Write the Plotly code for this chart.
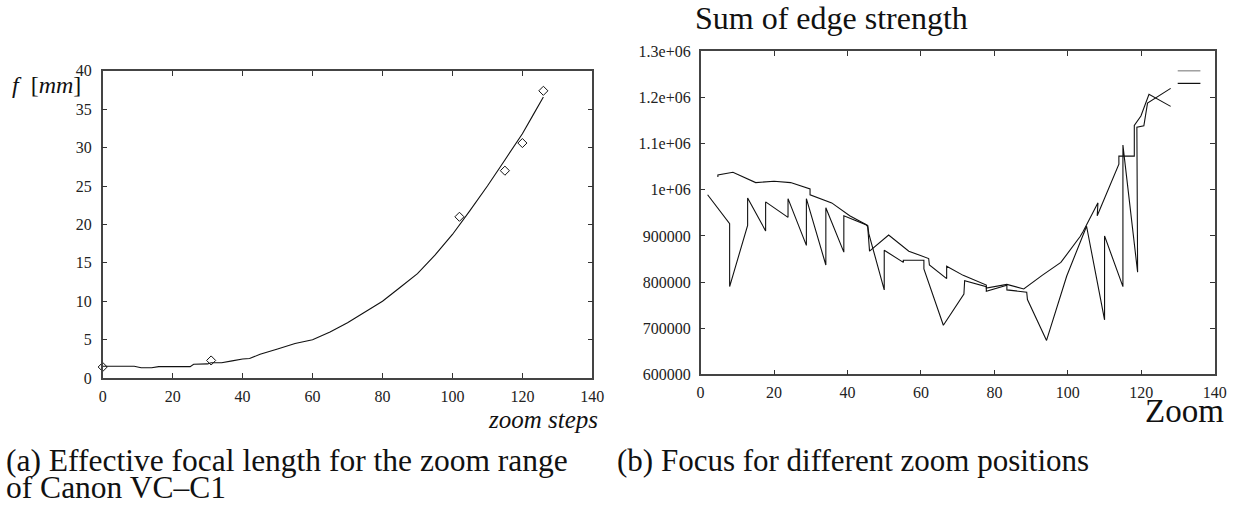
import plotly.graph_objects as go

W, H = 1244, 506
SERIF = "Liberation Serif, Times New Roman, serif"

# ---- (a) focal length vs zoom steps ----
fit_steps = [0, 5, 9, 11, 14, 16, 20, 25, 26, 30, 31, 34, 37, 40, 42, 45, 50, 55, 60, 65, 70, 75, 80, 85,
             90, 95, 100, 105, 110, 115, 120, 123, 126]
fit_focal = [1.55, 1.55, 1.55, 1.35, 1.35, 1.5, 1.5, 1.5, 1.8, 1.85, 2.0, 2.0, 2.25, 2.5, 2.55, 3.1, 3.8,
             4.5, 5.0, 6.0, 7.2, 8.6, 10.0, 11.8, 13.6, 16.0, 18.7, 21.8, 25.0, 28.4, 31.8, 34.2, 36.6]
meas_steps = [0, 31, 102, 115, 120, 126]
meas_focal = [1.45, 2.3, 21.0, 27.0, 30.6, 37.4]
a_xticks = [0, 20, 40, 60, 80, 100, 120, 140]
a_yticks = [0, 5, 10, 15, 20, 25, 30, 35, 40]

# ---- (b) sum of edge strength vs zoom ----
zoom_a = [4.7, 4.7, 8.8, 15.0, 20.0, 24.5, 29.8, 29.8, 35.7, 40.6, 45.0, 45.5, 46.0, 51.2, 56.7, 62.1,
          62.3, 67.0, 67.0, 71.5, 77.8, 77.8, 83.4, 88.0, 93.0, 98.1, 103.3, 104.2, 108.2, 108.0, 113.9,
          113.9, 118.1, 118.1, 119.9, 121.1, 122.1, 128.0]
edge_a = [1027700, 1032500, 1038200, 1015700, 1018700, 1015700, 1001900, 989300, 971700, 943800, 925000,
          920000, 867000, 902000, 867000, 851000, 837000, 807500, 834200, 814500, 793500, 787000, 795000,
          785000, 814500, 842500, 898300, 910000, 971700, 943800, 1055600, 1073000, 1073000, 1139400,
          1160000, 1186000, 1207000, 1181000]
zoom_b = [1.9, 7.9, 7.9, 12.8, 12.8, 17.7, 17.7, 23.8, 23.8, 28.8, 28.8, 34.1, 34.1, 39.0, 39.0, 45.5,
          45.8, 50.0, 50.0, 55.2, 55.2, 60.8, 60.8, 66.1, 71.7, 71.9, 77.8, 77.8, 83.4, 83.4, 88.8, 89.0,
          94.2, 99.7, 105.1, 110.0, 110.0, 115.0, 115.0, 119.0, 118.8, 120.7, 121.7, 128.0]
edge_b = [989300, 926400, 790100, 922900, 982200, 910900, 973800, 940300, 980900, 879500, 980900, 836900,
          961200, 864800, 943800, 922900, 905000, 783000, 869000, 842600, 847400, 847400, 828500, 706300,
          774000, 802700, 790000, 780000, 793000, 783000, 778000, 762000, 673400, 813000, 921000, 718000,
          900000, 790000, 1097000, 821500, 1136000, 1139000, 1188000, 1220000]
b_xticks = [0, 20, 40, 60, 80, 100, 120, 140]
b_yticks = [600000, 700000, 800000, 900000, 1000000, 1100000, 1200000, 1300000]
b_ylabels = ["600000", "700000", "800000", "900000", "1e+06", "1.1e+06", "1.2e+06", "1.3e+06"]


def px(x):
    return x / W


def py(y):
    return 1 - y / H


fig = go.Figure()
fig.add_trace(go.Scatter(x=fit_steps, y=fit_focal, mode="lines", line=dict(color="#111", width=1.1),
                         xaxis="x", yaxis="y", showlegend=False))
fig.add_trace(go.Scatter(x=meas_steps, y=meas_focal, mode="markers",
                         marker=dict(symbol="diamond-open", size=7, color="#111", line=dict(width=1)),
                         xaxis="x", yaxis="y", showlegend=False, cliponaxis=False))
fig.add_trace(go.Scatter(x=zoom_a, y=edge_a, mode="lines", line=dict(color="#111", width=1.1),
                         xaxis="x2", yaxis="y2", showlegend=False))
fig.add_trace(go.Scatter(x=zoom_b, y=edge_b, mode="lines", line=dict(color="#111", width=1.1),
                         xaxis="x2", yaxis="y2", showlegend=False))

tickfont = dict(family=SERIF, size=16, color="#222")
common = dict(showgrid=False, zeroline=False, showline=True, linecolor="#444", linewidth=1.5,
              mirror="ticks", ticks="inside", ticklen=5, tickwidth=1, tickcolor="#333",
              tickfont=tickfont, fixedrange=True)

fig.update_layout(
    width=W, height=H,
    margin=dict(l=0, r=0, t=0, b=0),
    paper_bgcolor="white", plot_bgcolor="white",
    xaxis=dict(domain=[px(100), px(596)], range=[0, 140], tickvals=a_xticks, anchor="y",
               ticklabelstandoff=3, **common),
    yaxis=dict(domain=[py(383), py(65)], range=[0, 40], tickvals=a_yticks, anchor="x",
               ticklabelstandoff=6, **common),
    xaxis2=dict(domain=[px(705.7), px(1226.5)], range=[0, 140], tickvals=b_xticks, anchor="y2",
                ticklabelstandoff=3, **common),
    yaxis2=dict(domain=[py(379), py(45)], range=[600000, 1300000], tickvals=b_yticks,
                ticktext=b_ylabels, anchor="x2", ticklabelstandoff=5, **common),
    showlegend=False,
)

ann = [
    dict(text="<i>f</i>  [<i>mm</i>]", x=px(7), y=py(80), xanchor="left", yanchor="middle", size=24),
    dict(text="<i>zoom steps</i>", x=px(603), y=py(426), xanchor="right", yanchor="middle", size=25),
    dict(text="Sum of edge strength", x=px(699), y=py(10), xanchor="left", yanchor="middle", size=32),
    dict(text="Zoom", x=px(1237), y=py(417), xanchor="right", yanchor="middle", size=33),
    dict(text="(a) Effective focal length for the zoom range", x=px(1), y=py(468), xanchor="left",
         yanchor="middle", size=31.5),
    dict(text="of Canon VC–C1", x=px(1), y=py(496), xanchor="left", yanchor="middle", size=31.5),
    dict(text="(b) Focus for different zoom positions", x=px(620), y=py(468), xanchor="left",
         yanchor="middle", size=31),
]
for a in ann:
    fig.add_annotation(text=a["text"], x=a["x"], y=a["y"], xref="paper", yref="paper",
                       xanchor=a["xanchor"], yanchor=a["yanchor"], showarrow=False, borderpad=0,
                       font=dict(family=SERIF, size=a["size"], color="#111"))

# legend keys (upper right of panel b)
fig.add_shape(type="line", xref="paper", yref="paper", x0=px(1189), x1=px(1212), y0=py(65), y1=py(65),
              line=dict(color="#888", width=1.2))
fig.add_shape(type="line", xref="paper", yref="paper", x0=px(1189), x1=px(1212), y0=py(78), y1=py(78),
              line=dict(color="#111", width=1.2))

fig.write_html("out.html")
